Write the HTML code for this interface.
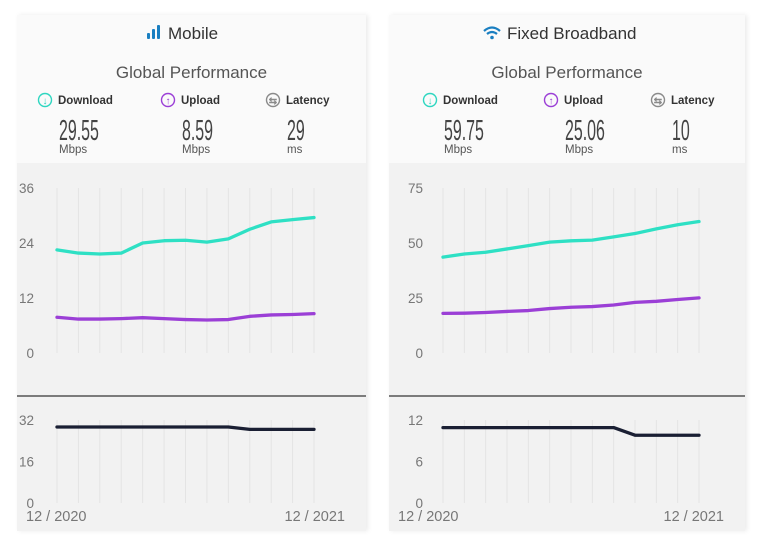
<!DOCTYPE html>
<html><head><meta charset="utf-8"><style>
body{margin:0;background:#fff;width:769px;height:544px;overflow:hidden;font-family:"Liberation Sans",sans-serif}
svg text{font-family:"Liberation Sans",sans-serif}
</style></head><body>
<svg id="s" width="769" height="544" viewBox="0 0 769 544">
<defs><filter id="sh" x="-5%" y="-5%" width="115%" height="110%"><feDropShadow dx="2" dy="0" stdDeviation="2" flood-color="#000" flood-opacity="0.08"/></filter></defs>
</svg>
<script>
const months = ["12/2020","1/2021","2/2021","3/2021","4/2021","5/2021","6/2021","7/2021","8/2021","9/2021","10/2021","11/2021","12/2021"];
const mobileDownload = [22.5,21.8,21.6,21.8,24,24.5,24.6,24.2,24.9,27,28.6,29.1,29.55];
const mobileUpload = [7.8,7.4,7.4,7.5,7.7,7.5,7.3,7.2,7.3,8,8.3,8.4,8.59];
const mobileLatency = [29.3,29.3,29.3,29.3,29.3,29.3,29.3,29.3,29.3,28.4,28.4,28.4,28.4];
const fixedDownload = [43.6,45,45.8,47.3,48.8,50.4,51,51.3,52.8,54.3,56.4,58.3,59.75];
const fixedUpload = [18,18.1,18.4,18.9,19.3,20.2,20.8,21.1,21.8,23,23.5,24.3,25.06];
const fixedLatency = [10.9,10.9,10.9,10.9,10.9,10.9,10.9,10.9,10.9,9.8,9.8,9.8,9.8];
const mobileTicks = [0,12,24,36];
const mobileLatTicks = [0,16,32];
const fixedTicks = [0,25,50,75];
const fixedLatTicks = [0,6,12];

const NS="http://www.w3.org/2000/svg", S=document.getElementById('s');
function el(tag,attrs,parent,txt){const e=document.createElementNS(NS,tag);for(const k in attrs)e.setAttribute(k,attrs[k]);if(txt!=null)e.textContent=txt;(parent||S).appendChild(e);return e;}

function panel(o){
  const g=el('g',{});
  
  
  const bg=el('rect',{x:o.x0,y:15,width:o.w,height:516,fill:'#fafafa',filter:'url(#sh)'},g);
  
  
  const cbg=el('rect',{x:o.x0,y:163,width:o.w,height:368,fill:'#f2f2f2'},g);
  
  
  const cx=o.x0+o.w/2;
  const tg=el('g',{},g);
  
  
  o.icon(tg);
  el('text',{x:o.titleX,y:39,'font-size':17,fill:'#333'},tg,o.title);
  const gp=el('text',{x:cx,y:78,'font-size':17,fill:'#555','text-anchor':'middle'},g,'Global Performance');
  
  
  const metrics=[['Download','#2ed6c0','↓',o.vals[0],'Mbps'],['Upload','#9b3fd6','↑',o.vals[1],'Mbps'],['Latency','#8a8a8a','⇆',o.vals[2],'ms']];
  metrics.forEach((m,i)=>{
    const ix=o.iconX[i];
    const mg=el('g',{},g);
    
    
    el('circle',{cx:ix,cy:100,r:6.5,fill:'none',stroke:m[1],'stroke-width':1.4},mg);
    el('text',{x:ix,y:104,'font-size':10,fill:m[1],'text-anchor':'middle','font-weight':'bold'},mg,m[2]);
    el('text',{x:ix+13,y:104,'font-size':11.5,fill:'#333','font-weight':'bold'},mg,m[0]);
    el('text',{x:ix+14,y:140,'font-size':29,fill:'#444','font-weight':'300',transform:`translate(${ix+14},0) scale(0.55,1) translate(${-(ix+14)},0)`,'font-family':'Liberation Sans Narrow, Liberation Sans, sans-serif'},mg,m[3]);
    el('text',{x:ix+14,y:153,'font-size':11.5,fill:'#555'},mg,m[4]);
  });
  const n=months.length, xs=i=>o.gx0+(o.gx1-o.gx0)*i/(n-1);
  const y1=v=>353-v/o.max*165, y2=v=>503-v/o.lmax*83;
  const grid=el('g',{},g);
  
  
  for(let i=0;i<n;i++){
    el('line',{x1:xs(i),x2:xs(i),y1:188,y2:353,stroke:'#e4e4e4','stroke-width':1},grid);
    el('line',{x1:xs(i),x2:xs(i),y1:420,y2:503,stroke:'#e4e4e4','stroke-width':1},grid);
  }
  o.ticks.forEach(t=>{const e=el('text',{x:o.tickX,y:y1(t)+5,'font-size':13.5,fill:'#777','text-anchor':'end'},g,t);
    });
  o.lticks.forEach(t=>{const e=el('text',{x:o.tickX,y:y2(t)+5,'font-size':13.5,fill:'#777','text-anchor':'end'},g,t);
    });
  const sep=el('line',{x1:o.x0,x2:o.x0+o.w,y1:396,y2:396,stroke:'#555','stroke-width':1.5},g);
  
  const xa=el('text',{x:o.x0+9,y:521,'font-size':14.5,fill:'#777'},g,'12 / 2020');
  
  const xb=el('text',{x:o.x0+o.w-21,y:521,'font-size':14.5,fill:'#777','text-anchor':'end'},g,'12 / 2021');
  
  const line=(arr,yf,col,nm)=>{const p=el('polyline',{points:arr.map((v,i)=>xs(i)+','+yf(v)).join(' '),fill:'none',stroke:col,'stroke-width':3.3,'stroke-linejoin':'round','stroke-linecap':'round'},g);
    };
  line(o.dl,y1,'#2ee0c4',o.name+'-download-line');
  line(o.ul,y1,'#9b3fd6',o.name+'-upload-line');
  line(o.lat,y2,'#1a1f33',o.name+'-latency-line');
}
panel({name:'mobile',x0:17,w:349,title:'Mobile',titleX:168,gx0:57,gx1:314,max:36,lmax:32,tickX:34,ticks:mobileTicks,lticks:mobileLatTicks,
  dl:mobileDownload,ul:mobileUpload,lat:mobileLatency,vals:['29.55','8.59','29'],iconX:[45,168,273],
  icon:g=>{el('rect',{x:147,y:33,width:3,height:6,fill:'#1a7fc1',rx:1},g);el('rect',{x:152,y:29,width:3,height:10,fill:'#1a7fc1',rx:1},g);el('rect',{x:157,y:25,width:3,height:14,fill:'#1a7fc1',rx:1},g);}});
panel({name:'fixed',x0:389,w:356,title:'Fixed Broadband',titleX:507,gx0:443,gx1:699,max:75,lmax:12,tickX:423,ticks:fixedTicks,lticks:fixedLatTicks,
  dl:fixedDownload,ul:fixedUpload,lat:fixedLatency,vals:['59.75','25.06','10'],iconX:[430,551,658],
  icon:g=>{el('path',{d:'M484 31 Q492 24 500 31',fill:'none',stroke:'#1a7fc1','stroke-width':2.2},g);el('path',{d:'M487 34 Q492 30 497 34',fill:'none',stroke:'#1a7fc1','stroke-width':2.2},g);el('circle',{cx:492,cy:37.5,r:1.8,fill:'#1a7fc1'},g);}});
</script>
</body></html>
